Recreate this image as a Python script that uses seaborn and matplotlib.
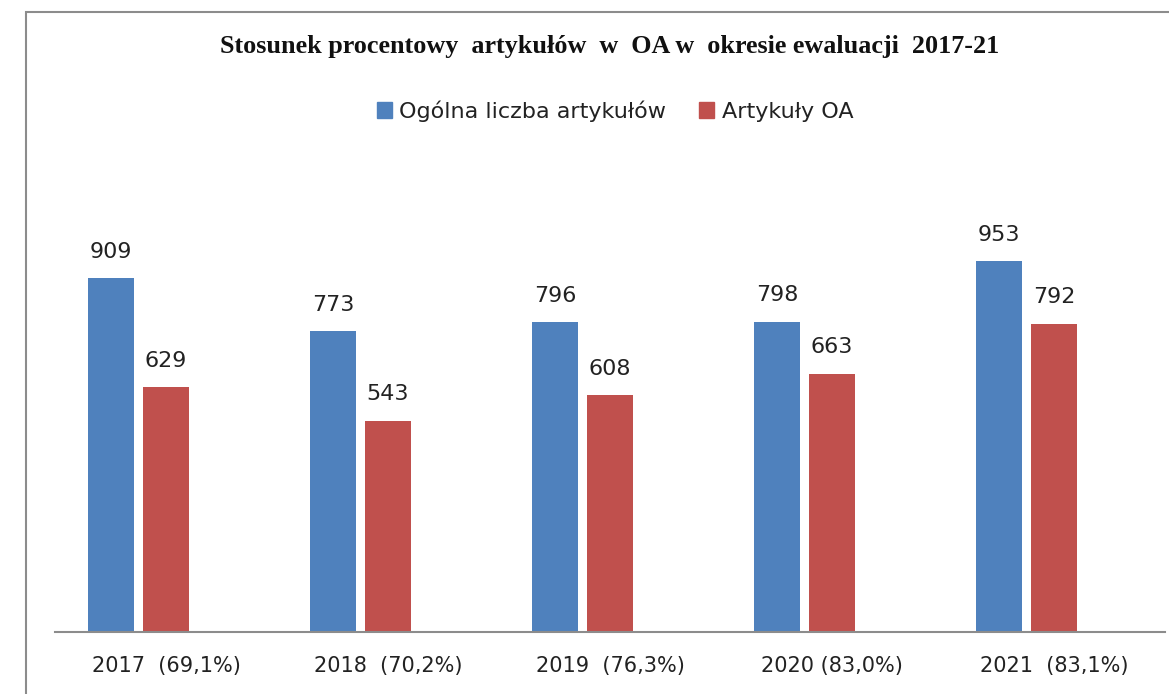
import matplotlib
matplotlib.use("Agg")
import matplotlib.pyplot as plt
import matplotlib.transforms as mtransforms
import seaborn as sns
import pandas as pd
import numpy as np
from matplotlib.patches import Rectangle

years = ["2017  (69,1%)", "2018  (70,2%)", "2019  (76,3%)", "2020 (83,0%)", "2021  (83,1%)"]
total = [909, 773, 796, 798, 953]
oa = [629, 543, 608, 663, 792]
series = ["Ogólna liczba artykułów", "Artykuły OA"]
colors = ["#4F81BD", "#C0504D"]

df = pd.DataFrame({
    "year": years * 2,
    "value": total + oa,
    "series": [series[0]] * len(years) + [series[1]] * len(years),
})

sns.set_theme(style="white")
plt.rcParams["font.family"] = ["DejaVu Sans"]

W, H = 1169, 694
fig = plt.figure(figsize=(W / 100, H / 100), dpi=100)
ax_w_px = 1165 - 55
ax = fig.add_axes([55 / W, (H - 632) / H, ax_w_px / W, (632 - 243) / H])

sns.barplot(data=df, x="year", y="value", hue="series", palette=colors,
            width=0.497, gap=0.18, ax=ax, legend=False, saturation=1,
            edgecolor="none")

for c in ax.containers:
    ax.bar_label(c, padding=12, fontsize=16, color="#222222")

# category slots are shifted (hidden third series slot in the original)
off = 0.124
ax.set_ylim(0, 1000)
ax.set_xlim(-0.5 + off, 4.5 + off)
ax.set_xticks(np.arange(len(years)))
ax.set_xticklabels(years)
ax.set_xlabel("")
ax.set_ylabel("")
ax.set_yticks([])
for s in ["top", "right", "left"]:
    ax.spines[s].set_visible(False)
ax.spines["bottom"].set_color("#8c8c8c")
ax.spines["bottom"].set_linewidth(1.5)
ax.tick_params(axis="x", length=0, pad=17, labelsize=15, labelcolor="#222222")
# tick labels sit at the centre of the full category slot
shift = mtransforms.ScaledTranslation(off * (ax_w_px / 5) / 100, 0, fig.dpi_scale_trans)
for lbl in ax.get_xticklabels():
    lbl.set_transform(lbl.get_transform() + shift)

fig.text(610 / W, 1 - 47 / H,
         "Stosunek procentowy  artykułów  w  OA w  okresie ewaluacji  2017-21",
         ha="center", va="center", fontsize=18.8, fontweight="bold",
         family="Liberation Serif", color="#111111")

handles = [Rectangle((0, 0), 1, 1, color=col) for col in colors]
fig.legend(handles, series, loc="center", bbox_to_anchor=(615 / W, 1 - 111 / H),
           ncol=2, frameon=False, fontsize=16, handlelength=0.68, handleheight=0.68,
           handletextpad=0.32, columnspacing=1.5, labelcolor="#222222")

fig.patches.append(Rectangle((26 / W, -0.1), 2, (H - 12) / H + 0.1,
                             transform=fig.transFigure, fill=False,
                             edgecolor="#8c8c8c", linewidth=1.5))

fig.savefig("out.png", dpi=100, facecolor="white")
